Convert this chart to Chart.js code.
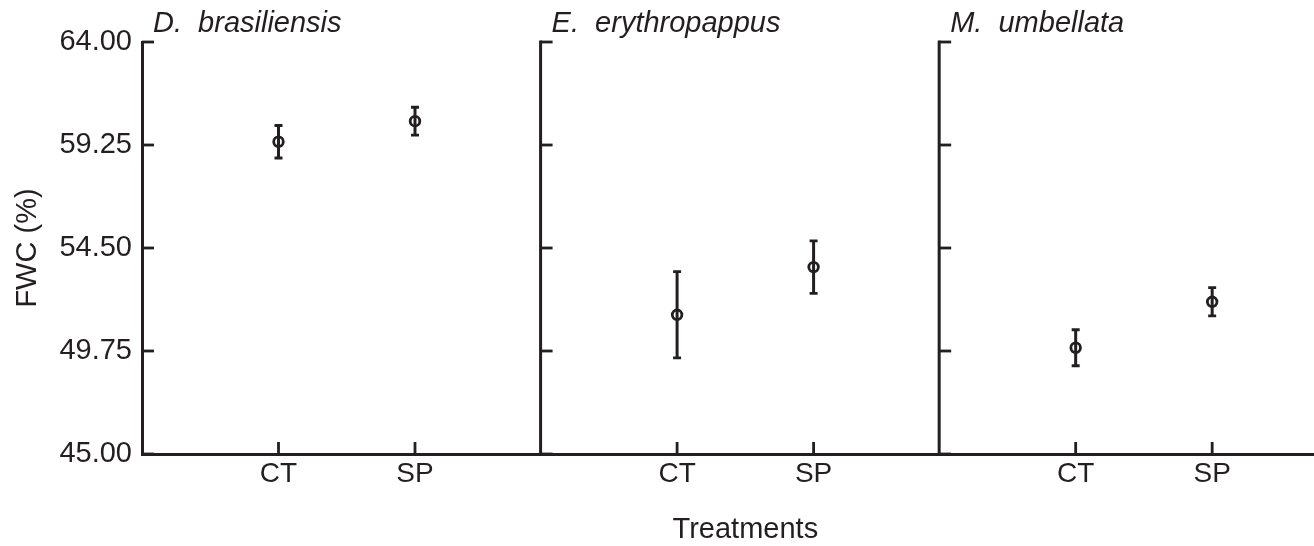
<!DOCTYPE html>
<html lang="en">
<head>
    <meta charset="UTF-8">
    <title>FWC by treatment</title>
    <style>
        body { margin: 0; background: #fff; }
        #box { width: 1314px; height: 546px; }
    </style>
</head>
<body>
    <div id="box"><canvas id="myChart" width="1314" height="546"></canvas></div>
    <script src="https://cdn.jsdelivr.net/npm/chart.js@4.4.0/dist/chart.umd.min.js"></script>
    <script>

        const species = ['D.  brasiliensis', 'E.  erythropappus', 'M.  umbellata'];
        const treatments = ['CT', 'SP'];
        const ctMean = [59.40, 51.42, 49.90];
        const spMean = [60.35, 53.62, 52.02];
        const ctErr = [0.75, 1.99, 0.83];
        const spErr = [0.64, 1.21, 0.65];
        const yTicks = [45.00, 49.75, 54.50, 59.25, 64.00];

        const ink = '#231f20';
        const panelGap = 2.92;   // x units from one panel axis to the next
        const xMax = 8.586;
        const fontFam = '"Liberation Sans", Arial, sans-serif';

        // one point per species / treatment
        let points = [];
        let errs = [];
        let xTicks = [];
        species.forEach((s, p) => {
            [ctMean[p], spMean[p]].forEach((m, t) => {
                let x = p * panelGap + 1 + t;
                points.push({x: x, y: m});
                errs.push(t == 0 ? ctErr[p] : spErr[p]);
                xTicks.push({value: x, label: treatments[t]});
            });
        });

        const panelPlugin = {
            id: 'panels',
            beforeDatasetsDraw(chart) {
                const ctx = chart.ctx;
                const xs = chart.scales.x, ys = chart.scales.y;
                ctx.save();
                ctx.strokeStyle = ink;
                points.forEach((pt, i) => {
                    let px = xs.getPixelForValue(pt.x);
                    let top = ys.getPixelForValue(pt.y + errs[i]);
                    let bot = ys.getPixelForValue(pt.y - errs[i]);
                    ctx.lineWidth = 3;
                    ctx.beginPath();
                    ctx.moveTo(px, top); ctx.lineTo(px, bot);
                    ctx.stroke();
                    ctx.lineWidth = 2.8;
                    ctx.beginPath();
                    ctx.moveTo(px - 4, top); ctx.lineTo(px + 4, top);
                    ctx.moveTo(px - 4, bot); ctx.lineTo(px + 4, bot);
                    ctx.stroke();
                });
                ctx.restore();
            },
            afterDraw(chart) {
                const ctx = chart.ctx;
                const xs = chart.scales.x, ys = chart.scales.y;
                const area = chart.chartArea;
                ctx.save();
                ctx.strokeStyle = ink;
                ctx.fillStyle = ink;
                species.forEach((s, p) => {
                    let ax = xs.getPixelForValue(p * panelGap);
                    if (p > 0) {
                        ctx.lineWidth = 3;
                        ctx.beginPath();
                        ctx.moveTo(ax, area.top - 1.5); ctx.lineTo(ax, area.bottom);
                        ctx.stroke();
                    }
                    ctx.lineWidth = 2.8;
                    yTicks.forEach(v => {
                        let py = ys.getPixelForValue(v);
                        ctx.beginPath();
                        ctx.moveTo(ax, py); ctx.lineTo(ax + 12, py);
                        ctx.stroke();
                    });
                    ctx.font = 'italic 29px ' + fontFam;
                    ctx.textAlign = 'left';
                    ctx.textBaseline = 'alphabetic';
                    ctx.fillText(s, ax + 11, 32);
                });
                ctx.lineWidth = 2.8;
                xTicks.forEach(t => {
                    let px = xs.getPixelForValue(t.value);
                    ctx.beginPath();
                    ctx.moveTo(px, area.bottom); ctx.lineTo(px, area.bottom - 12);
                    ctx.stroke();
                });
                // axis title sits under the middle panel
                let mid = (xs.getPixelForValue(xTicks[2].value) + xs.getPixelForValue(xTicks[3].value)) / 2;
                ctx.font = '29px ' + fontFam;
                ctx.textAlign = 'center';
                ctx.fillText('Treatments', mid, 538);
                ctx.restore();
            }
        };

        const ctx = document.getElementById('myChart').getContext('2d');
        const myChart = new Chart(ctx, {
            type: 'scatter',
            data: {
                datasets: [{
                    data: points,
                    pointRadius: 4.8,
                    pointHoverRadius: 4.8,
                    pointBorderWidth: 2.8,
                    borderColor: ink,
                    backgroundColor: 'rgba(0,0,0,0)'
                }]
            },
            options: {
                responsive: false,
                animation: false,
                layout: { autoPadding: false, padding: { top: 42, left: 0, right: 0, bottom: 0 } },
                plugins: {
                    legend: { display: false },
                    tooltip: { enabled: false }
                },
                scales: {
                    x: {
                        type: 'linear',
                        min: 0,
                        max: xMax,
                        afterBuildTicks: scale => { scale.ticks = xTicks.map(t => ({value: t.value})); },
                        afterFit: scale => { scale.height = 92; },
                        grid: { display: false, drawTicks: false },
                        border: { display: true, color: ink, width: 3 },
                        ticks: {
                            color: ink,
                            padding: 3,
                            maxRotation: 0,
                            font: { family: fontFam, size: 28 },
                            callback: (v, i) => xTicks[i] ? xTicks[i].label : ''
                        }
                    },
                    y: {
                        min: 45,
                        max: 64,
                        afterBuildTicks: scale => { scale.ticks = yTicks.map(v => ({value: v})); },
                        afterFit: scale => { scale.width = 142; },
                        grid: { display: false, drawTicks: false },
                        border: { display: true, color: ink, width: 3 },
                        ticks: {
                            color: ink,
                            padding: 10,
                            font: { family: fontFam, size: 29 },
                            callback: v => Number(v).toFixed(2)
                        },
                        title: {
                            display: true,
                            text: 'FWC (%)',
                            color: ink,
                            padding: { top: 11, bottom: 0 },
                            font: { family: fontFam, size: 29 }
                        }
                    }
                }
            },
            plugins: [panelPlugin]
        });

    </script>
</body>
</html>
